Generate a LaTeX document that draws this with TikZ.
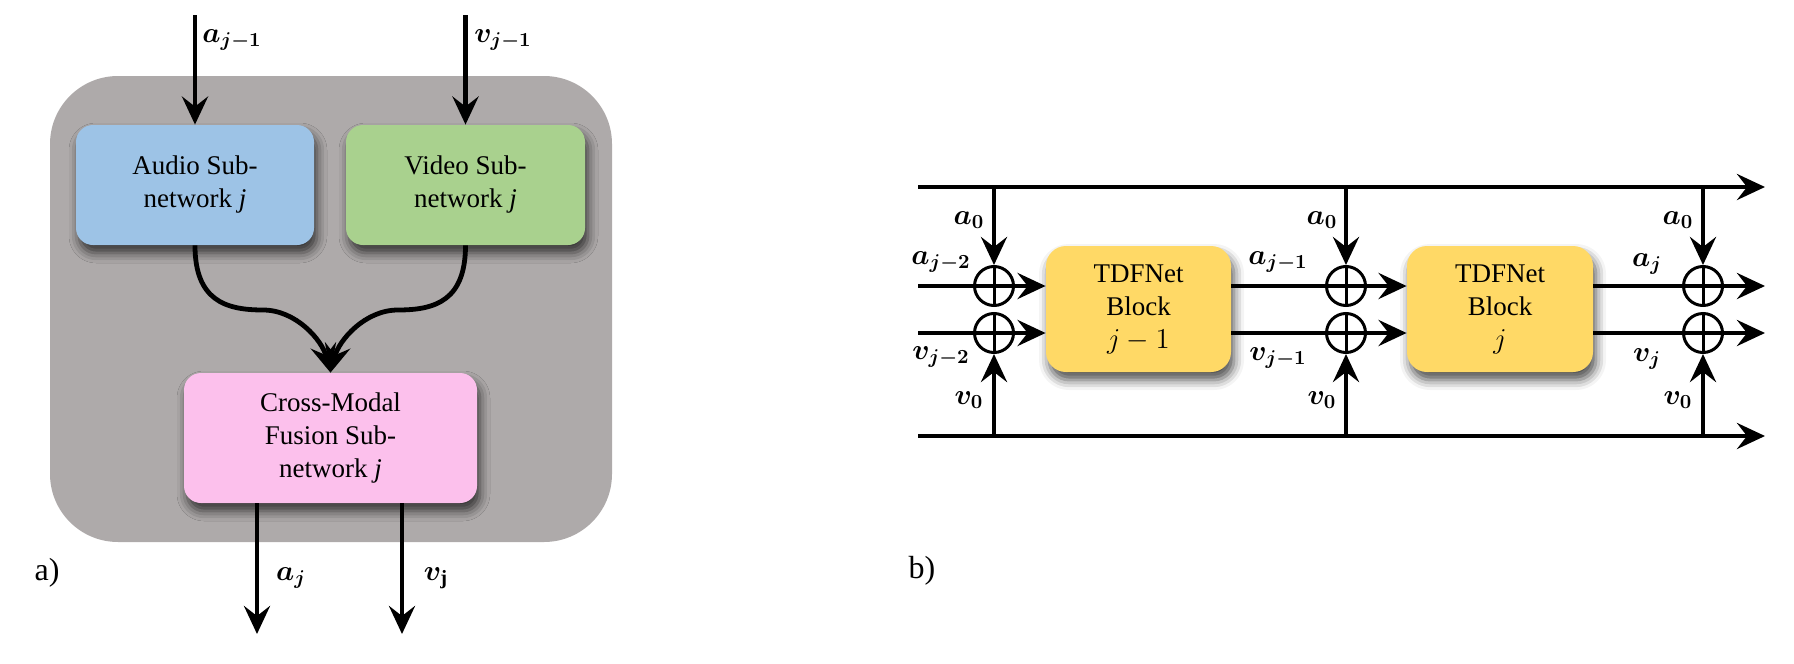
\documentclass[tikz,border=0pt]{standalone}
\usepackage{fontspec}
\setmainfont{Liberation Serif}
\usepackage{amsmath,bm}
\usetikzlibrary{arrows.meta,shadows.blur}
\definecolor{panelgray}{HTML}{AEAAAA}
\definecolor{audioblue}{HTML}{9DC3E6}
\definecolor{videogreen}{HTML}{A9D18E}
\definecolor{fusionpink}{HTML}{FCC0EC}
\definecolor{tdfyellow}{HTML}{FFD966}
\begin{document}
\begin{tikzpicture}[x=0.5pt,y=-0.5pt,
  arr/.style={line width=2.4pt,-{Stealth[length=14pt,width=13pt,inset=5pt]}},
  ln/.style={line width=2.4pt},
  blk/.style={rounded corners=8.5pt, inner sep=0pt, align=center,
    font=\fontsize{13.5}{16.5}\selectfont,
    blur shadow={shadow xshift=1.5pt, shadow yshift=-4pt, shadow blur radius=5pt, shadow opacity=70}},
  lab/.style={font=\fontsize{14.5}{16}\selectfont, inner sep=0pt},
  sumnode/.style={circle, draw, line width=1.5pt, minimum size=19.5pt, inner sep=0pt},
  panellab/.style={font=\fontsize{16}{18}\selectfont, inner sep=0pt}
]
\useasboundingbox (0,0) rectangle (1794,664);

% ---------------- panel a ----------------
\fill[panelgray, rounded corners=34pt] (50,76) rectangle (612,542);

\node[blk, fill=audioblue, minimum width=119pt, minimum height=60pt] (audio) at (195,185) {Audio Sub-\\network \textit{j}};
\node[blk, fill=videogreen, minimum width=119.5pt, minimum height=60pt] (video) at (465.5,185) {Video Sub-\\network \textit{j}};
\node[blk, fill=fusionpink, minimum width=146.5pt, minimum height=65pt] (fusion) at (330.5,438) {Cross-Modal\\Fusion Sub-\\network \textit{j}};

\coordinate (ain) at (195,15);
\coordinate (vin) at (465.5,15);
\draw[arr] (ain) -- (audio.north);
\draw[arr] (vin) -- (video.north);
\node[lab] (lain) at (232,40) {$\bm{a_{j-1}}$};
\node[lab] (lvin) at (503,40) {$\bm{v_{j-1}}$};

\draw[arr] (audio.south) .. controls (195,300) and (225,310) .. (263,310)
  .. controls (296,310) and (322,340) .. (fusion.north);
\draw[arr] (video.south) .. controls (465.5,300) and (436,310) .. (398,310)
  .. controls (365,310) and (339,340) .. (fusion.north);

\coordinate (aout) at (257,634);
\coordinate (vout) at (402,634);
\draw[arr] (fusion.south -| aout) -- (aout);
\draw[arr] (fusion.south -| vout) -- (vout);
\node[lab] (laout) at (291,578) {$\bm{a_{j}}$};
\node[lab] (lvout) at (436,578) {$\bm{v}_{\mathbf{j}}$};

\node[panellab] (pa) at (47,573) {a)};

% ---------------- panel b ----------------
\coordinate (tl) at (918,187);
\coordinate (tr) at (1765,187);
\coordinate (bl) at (918,436);
\coordinate (br) at (1765,436);
\coordinate (ia) at (918,286);
\coordinate (iv) at (918,333);
\coordinate (oa) at (1765,286);
\coordinate (ov) at (1765,333);

\node[blk, rounded corners=10pt, fill=tdfyellow, minimum width=92.5pt, minimum height=63pt] (b1) at (1138.5,309) {TDFNet\\Block\\$j-1$};
\node[blk, rounded corners=10pt, fill=tdfyellow, minimum width=93pt, minimum height=63pt] (b2) at (1500,309) {TDFNet\\Block\\$j$};

\draw[arr] (tl) -- (tr);
\draw[arr] (bl) -- (br);

\foreach \n/\x in {1/994,2/1346,3/1703}{
  \node[sumnode] (s\n a) at (\x,286) {};
  \node[sumnode] (s\n v) at (\x,333) {};
  \draw[line width=1.5pt] (s\n a.north) -- (s\n a.south) (s\n v.north) -- (s\n v.south);
  \draw[line width=2pt] (s\n a.west) -- (s\n a.east) (s\n v.west) -- (s\n v.east);
  \draw[arr] (s\n a |- tl) -- (s\n a.north);
  \draw[arr] (s\n v |- bl) -- (s\n v.south);
}

\draw[ln] (ia) -- (s1a.west);
\draw[ln] (iv) -- (s1v.west);
\draw[arr] (s1a.east) -- (b1.west |- s1a);
\draw[arr] (s1v.east) -- (b1.west |- s1v);
\draw[ln] (b1.east |- s2a) -- (s2a.west);
\draw[ln] (b1.east |- s2v) -- (s2v.west);
\draw[arr] (s2a.east) -- (b2.west |- s2a);
\draw[arr] (s2v.east) -- (b2.west |- s2v);
\draw[ln] (b2.east |- s3a) -- (s3a.west);
\draw[ln] (b2.east |- s3v) -- (s3v.west);
\draw[arr] (s3a.east) -- (oa);
\draw[arr] (s3v.east) -- (ov);

\node[lab] (la01) at (969,220) {$\bm{a_{0}}$};
\node[lab] (lv01) at (969,400) {$\bm{v_{0}}$};
\node[lab] (la02) at (1322,220) {$\bm{a_{0}}$};
\node[lab] (lv02) at (1322,400) {$\bm{v_{0}}$};
\node[lab] (la03) at (1678,220) {$\bm{a_{0}}$};
\node[lab] (lv03) at (1678,400) {$\bm{v_{0}}$};
\node[lab] (laj2) at (941,262) {$\bm{a_{j-2}}$};
\node[lab] (lvj2) at (941,357) {$\bm{v_{j-2}}$};
\node[lab] (laj1) at (1278,262) {$\bm{a_{j-1}}$};
\node[lab] (lvj1) at (1278,358) {$\bm{v_{j-1}}$};
\node[lab] (laj) at (1647,264) {$\bm{a_{j}}$};
\node[lab] (lvj) at (1647,359) {$\bm{v_{j}}$};

\node[panellab] (pb) at (922,571) {b)};
\end{tikzpicture}
\end{document}
